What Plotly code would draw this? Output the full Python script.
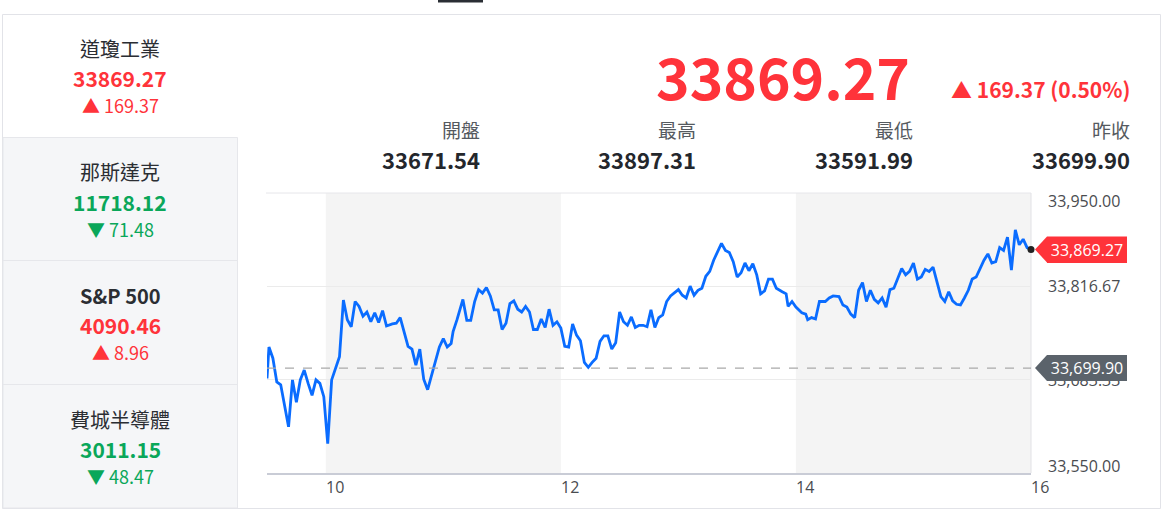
import plotly.graph_objects as go

# ---------------- data ----------------
index_names = ["道瓊工業", "那斯達克", "S&P 500", "費城半導體"]
index_values = ["33869.27", "11718.12", "4090.46", "3011.15"]
index_changes = ["▲ 169.37", "▼ 71.48", "▲ 8.96", "▼ 48.47"]
index_up = [True, False, True, False]

last_price = 33869.27
change_text = "▲ 169.37 (0.50%)"
stat_labels = ["開盤", "最高", "最低", "昨收"]
stat_values = [33671.54, 33897.31, 33591.99, 33699.90]
prev_close = 33699.90

minutes_since_open = [
    0, 1, 3, 5, 7, 9, 11, 13, 15, 17, 19, 21, 23, 25, 27, 29, 31, 33, 37, 39,
    41, 43, 45, 47, 49, 51, 53, 55, 57, 59, 61, 64, 66, 68, 72, 74, 76, 78, 80, 82,
    85, 88, 90, 92, 94, 95, 97, 100, 102, 104, 106, 108, 110, 112, 114, 116, 118, 120, 122, 124,
    126, 128, 130, 132, 134, 136, 138, 140, 142, 144, 146, 148, 150, 152, 154, 156, 158, 160, 162, 164,
    166, 168, 170, 172, 174, 176, 178, 180, 182, 184, 186, 188, 190, 192, 194, 196, 198, 200, 202, 204,
    206, 210, 212, 214, 216, 218, 220, 222, 224, 226, 228, 230, 232, 234, 236, 238, 240, 242, 244, 246,
    248, 250, 252, 254, 256, 258, 260, 263, 265, 266, 268, 270, 273, 275, 276, 278, 280, 282, 285, 287,
    289, 292, 294, 296, 298, 300, 302, 304, 306, 308, 310, 312, 314, 316, 318, 320, 324, 326, 328, 330,
    332, 334, 336, 338, 340, 344, 346, 348, 350, 352, 354, 356, 358, 360, 362, 364, 366, 368, 370, 372,
    374, 376, 378, 380, 382, 384, 386, 388, 390,
]
prices = [
    33685, 33730, 33714, 33680, 33676, 33647, 33616, 33683, 33651, 33683, 33697, 33678, 33661, 33683, 33678, 33659, 33592, 33683, 33716, 33797,
    33769, 33759, 33795, 33788, 33774, 33780, 33766, 33779, 33765, 33782, 33760, 33763, 33764, 33772, 33731, 33727, 33704, 33727, 33684, 33669,
    33700, 33730, 33742, 33730, 33735, 33752, 33769, 33798, 33768, 33768, 33795, 33812, 33807, 33815, 33803, 33783, 33783, 33755, 33764, 33792,
    33796, 33784, 33780, 33788, 33780, 33755, 33755, 33770, 33758, 33784, 33761, 33766, 33757, 33731, 33730, 33763, 33747, 33739, 33708, 33701,
    33708, 33714, 33738, 33746, 33746, 33727, 33736, 33780, 33766, 33761, 33773, 33758, 33761, 33761, 33759, 33783, 33758, 33772, 33776, 33795,
    33803, 33812, 33804, 33800, 33817, 33804, 33811, 33814, 33831, 33838, 33854, 33865, 33878, 33868, 33865, 33852, 33830, 33836, 33850, 33839,
    33849, 33833, 33806, 33810, 33827, 33827, 33814, 33809, 33806, 33788, 33795, 33787, 33779, 33777, 33769, 33772, 33770, 33795, 33795, 33800,
    33803, 33802, 33790, 33787, 33777, 33772, 33811, 33822, 33795, 33811, 33798, 33793, 33800, 33787, 33812, 33814, 33842, 33833, 33838, 33850,
    33827, 33830, 33841, 33838, 33844, 33802, 33795, 33809, 33796, 33791, 33790, 33800, 33811, 33827, 33830, 33842, 33854, 33863, 33850, 33852,
    33872, 33868, 33887, 33840, 33897.31, 33876, 33884, 33872, 33869.27,
]
hours = [9.5 + m / 60 for m in minutes_since_open]

y_ticks = [33950.00, 33816.67, 33683.33, 33550.00]
x_ticks = [10, 12, 14, 16]
shaded_hours = [(10, 12), (14, 16)]

# ---------------- layout constants ----------------
W, H = 1163, 514
PL, PR, PT, PB = 267, 1031, 193, 473
RED = "#ff333a"
GREEN = "#0aa75a"
BLUE = "#0a6cff"
DARK = "#24272c"
CJK = "Noto Sans CJK TC"
LAT = "Open Sans"


def px(x):
    return (x - PL) / (PR - PL)


def py(y):
    return (PB - y) / (PB - PT)


fig = go.Figure()
fig.add_trace(go.Scatter(
    x=hours, y=prices, mode="lines",
    line=dict(color=BLUE, width=2.8, shape="linear"),
    hoverinfo="skip", showlegend=False,
))
fig.add_trace(go.Scatter(
    x=[hours[-1]], y=[prices[-1]], mode="markers",
    marker=dict(color="#222222", size=7), cliponaxis=False,
    hoverinfo="skip", showlegend=False,
))

shapes = []
annotations = []

# outer frame & left panel
shapes.append(dict(type="rect", xref="paper", yref="paper", layer="below",
                   x0=px(2.5), x1=px(1160.5), y0=py(14.5), y1=py(508.5),
                   line=dict(color="#e2e3e8", width=1), fillcolor="rgba(0,0,0,0)"))
shapes.append(dict(type="rect", xref="paper", yref="paper", layer="below",
                   x0=px(3), x1=px(237.5), y0=py(137.5), y1=py(508),
                   line=dict(color="#e6e7eb", width=1), fillcolor="#f5f6f8"))
for yy in (260.5, 384.5):
    shapes.append(dict(type="line", xref="paper", yref="paper", layer="below",
                       x0=px(3), x1=px(237.5), y0=py(yy), y1=py(yy),
                       line=dict(color="#e6e7eb", width=1)))
# top tab marker
shapes.append(dict(type="rect", xref="paper", yref="paper", layer="below",
                   x0=px(438), x1=px(483), y0=py(0), y1=py(2.5),
                   line=dict(width=0), fillcolor="#2a2e34"))

# chart shading
for a, b in shaded_hours:
    shapes.append(dict(type="rect", xref="x", yref="paper", layer="below",
                       x0=a, x1=b, y0=0, y1=1, line=dict(width=0), fillcolor="#f4f4f4"))
# chart frame lines
shapes.append(dict(type="line", xref="paper", yref="paper", layer="below",
                   x0=px(266), x1=1, y0=1, y1=1, line=dict(color="#e6e6ea", width=1)))
shapes.append(dict(type="line", xref="paper", yref="paper", layer="below",
                   x0=1, x1=1, y0=0, y1=1, line=dict(color="#e2e2e6", width=1)))
# previous close dashed line
shapes.append(dict(type="line", xref="paper", yref="y", layer="above",
                   x0=0, x1=1, y0=prev_close, y1=prev_close,
                   line=dict(color="#a9a9a9", width=1.3, dash="dash")))

# left panel texts
for i, (nm, val, chg, up) in enumerate(zip(index_names, index_values, index_changes, index_up)):
    base = 48 + i * 123.7
    col = RED if up else GREEN
    annotations.append(dict(text=nm, x=px(120), y=py(base), xref="paper", yref="paper",
                            xanchor="center", yanchor="middle", showarrow=False,
                            font=dict(family=CJK, size=20, color="#2b2e33",
                                      weight=700 if nm.isascii() else 400)))
    annotations.append(dict(text=val, x=px(120), y=py(base + 30), xref="paper", yref="paper",
                            xanchor="center", yanchor="middle", showarrow=False,
                            font=dict(family=CJK, size=21, color=col, weight=700)))
    annotations.append(dict(text=chg, x=px(120), y=py(base + 57), xref="paper", yref="paper",
                            xanchor="center", yanchor="middle", showarrow=False,
                            font=dict(family=CJK, size=18, color=col)))

# header
annotations.append(dict(text=f"{last_price:.2f}", x=px(912), y=py(75), xref="paper", yref="paper",
                        xanchor="right", yanchor="middle", showarrow=False,
                        font=dict(family=CJK, size=57, color=RED, weight=700)))
annotations.append(dict(text=change_text, x=px(1132), y=py(89), xref="paper", yref="paper",
                        xanchor="right", yanchor="middle", showarrow=False,
                        font=dict(family=CJK, size=21, color=RED, weight=700)))
for lab, val, xr in zip(stat_labels, stat_values, (482, 698, 915, 1132)):
    annotations.append(dict(text=lab, x=px(xr), y=py(130), xref="paper", yref="paper",
                            xanchor="right", yanchor="middle", showarrow=False,
                            font=dict(family=CJK, size=19, color="#555a60")))
    annotations.append(dict(text=f"{val:.2f}", x=px(xr), y=py(159), xref="paper", yref="paper",
                            xanchor="right", yanchor="middle", showarrow=False,
                            font=dict(family=CJK, size=22, color=DARK, weight=700)))

# y tick labels
shifts = [-8, 0, 0, 7]
for v, s in zip(y_ticks, shifts):
    annotations.append(dict(text=f"{v:,.2f}", x=px(1046), y=v, xref="paper", yref="y",
                            xanchor="left", yanchor="middle", yshift=s, showarrow=False,
                            font=dict(family=LAT, size=16, color="#4a4c50")))
# x tick labels
for t in x_ticks:
    annotations.append(dict(text=str(t), x=t, y=py(487), xref="x", yref="paper",
                            xanchor="left", yanchor="middle", xshift=-2, showarrow=False,
                            font=dict(family=LAT, size=16, color="#4a4c50")))

# price tags
for val, col in ((last_price, RED), (prev_close, "#5b636b")):
    shapes.append(dict(type="path", layer="above", xref="paper", yref="y",
                       xsizemode="pixel", ysizemode="pixel", xanchor=1, yanchor=val,
                       path="M 4,0 L 16,13 L 96,13 L 96,-13 L 16,-13 Z",
                       fillcolor=col, line=dict(width=0)))
    annotations.append(dict(text=f"{val:,.2f}", x=px(1047), y=val, xref="paper", yref="y",
                            xanchor="left", yanchor="middle", showarrow=False,
                            width=80, height=26, borderpad=0, borderwidth=0, bgcolor=col,
                            align="center", valign="middle",
                            font=dict(family=LAT, size=16, color="#ffffff")))

fig.update_layout(
    width=W, height=H, autosize=False,
    margin=dict(l=PL, r=W - PR, t=PT, b=H - PB, pad=0),
    paper_bgcolor="#ffffff", plot_bgcolor="rgba(0,0,0,0)",
    shapes=shapes, annotations=annotations, showlegend=False,
    xaxis=dict(range=[9.5, 16], showgrid=False, zeroline=False, showticklabels=False,
               ticks="", showline=True, linecolor="#c9ccd6", linewidth=1.5,
               fixedrange=True),
    yaxis=dict(range=[33550, 33950], tickvals=[y_ticks[1], y_ticks[2]], showticklabels=False,
               showgrid=True, gridcolor="#ebebeb", gridwidth=1, zeroline=False, ticks="",
               showline=False, fixedrange=True),
    hovermode=False,
)

fig.write_html("out.html", config={"displayModeBar": False},
               post_script="document.body.style.margin='0';document.body.style.overflow='hidden';")
